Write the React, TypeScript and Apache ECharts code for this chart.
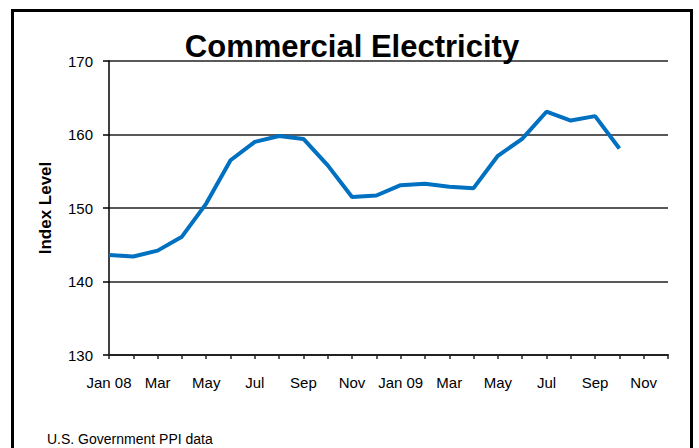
import React, { useEffect, useRef } from "react";
import * as echarts from "echarts";

const categories = [
  "Jan 2008", "Feb 2008", "Mar 2008", "Apr 2008", "May 2008", "Jun 2008",
  "Jul 2008", "Aug 2008", "Sep 2008", "Oct 2008", "Nov 2008", "Dec 2008",
  "Jan 2009", "Feb 2009", "Mar 2009", "Apr 2009", "May 2009", "Jun 2009",
  "Jul 2009", "Aug 2009", "Sep 2009", "Oct 2009", "Nov 2009", "Dec 2009",
];

const tickLabels = ["Jan 08", "Mar", "May", "Jul", "Sep", "Nov", "Jan 09", "Mar", "May", "Jul", "Sep", "Nov"];

const indexLevel = [
  143.6, 143.4, 144.2, 146.1, 150.6, 156.5, 159.0, 159.8, 159.4, 155.8, 151.5, 151.7,
  153.1, 153.3, 152.9, 152.7, 157.1, 159.4, 163.1, 161.9, 162.5, 158.1,
];

const titleText = "Commercial Electricity";
const yAxisName = "Index Level";
const sourceText = "U.S. Government PPI data";

const FONT = "'Liberation Sans', Arial, Helvetica, sans-serif";

export default function App() {
  const ref = useRef<HTMLDivElement>(null);
  useEffect(() => {
    if (!ref.current) return;
    const chart = echarts.init(ref.current, null, { renderer: "svg" });
    chart.setOption({
      animation: false,
      backgroundColor: "#ffffff",
      grid: { left: 109, right: 31, top: 61, bottom: 93, containLabel: false },
      xAxis: {
        type: "category",
        data: categories,
        boundaryGap: false,
        axisLine: { show: true, lineStyle: { color: "#222", width: 2 } },
        axisTick: { show: true, interval: 0, length: 4, lineStyle: { color: "#222", width: 1.5 } },
        axisLabel: {
          interval: 1,
          margin: 20,
          color: "#000",
          fontSize: 15,
          fontFamily: FONT,
          formatter: (_v: string, i: number) => tickLabels[Math.floor(i / 2)] ?? "",
        },
        splitLine: { show: false },
      },
      yAxis: {
        type: "value",
        min: 130,
        max: 170,
        interval: 10,
        name: yAxisName,
        nameLocation: "middle",
        nameRotate: 90,
        nameGap: 55,
        nameTextStyle: { fontSize: 17, fontWeight: "bold", color: "#000", fontFamily: FONT },
        axisLine: { show: true, lineStyle: { color: "#000", width: 1.5 } },
        axisTick: { show: true, length: 6, lineStyle: { color: "#000", width: 1.5 } },
        axisLabel: { margin: 16, color: "#000", fontSize: 15, fontFamily: FONT },
        splitLine: { show: true, lineStyle: { color: "#222", width: 1.5 } },
      },
      series: [
        {
          type: "line",
          data: indexLevel,
          showSymbol: false,
          symbol: "none",
          lineStyle: { color: "#0070C0", width: 4 },
          itemStyle: { color: "#0070C0" },
          z: 3,
        },
      ],
      graphic: [
        {
          type: "rect",
          shape: { x: 12.5, y: 10.5, width: 679, height: 470 },
          style: { fill: "none", stroke: "#000", lineWidth: 3 },
          z: 0,
          silent: true,
        },
        {
          type: "text",
          style: {
            text: titleText,
            x: 352,
            y: 46,
            textAlign: "center",
            textVerticalAlign: "middle",
            fontSize: 31,
            fontWeight: "bold",
            fontFamily: FONT,
            fill: "#000",
          },
          z: 10,
        },
        {
          type: "text",
          style: {
            text: sourceText,
            x: 47,
            y: 439,
            textAlign: "left",
            textVerticalAlign: "middle",
            fontSize: 14,
            fontFamily: FONT,
            fill: "#000",
          },
          z: 10,
        },
      ],
    });
    return () => chart.dispose();
  }, []);
  return (
    <div
      ref={ref}
      style={{ position: "absolute", left: 0, top: 0, width: 699, height: 448, background: "#fff" }}
    />
  );
}
